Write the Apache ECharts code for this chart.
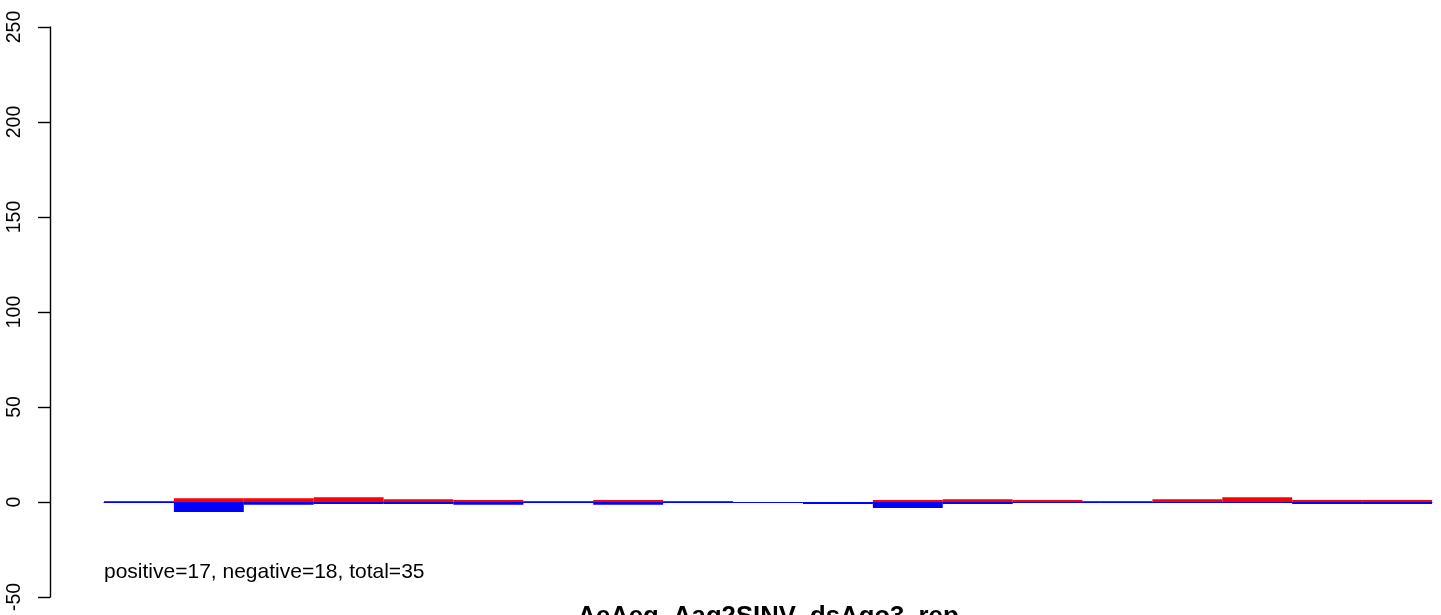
<!DOCTYPE html>
<html>
<head>
<meta charset="utf-8">
<script src="https://cdn.jsdelivr.net/npm/echarts@6/dist/echarts.min.js"></script>
<style>
html,body{margin:0;padding:0;background:#fff;}
#chart{width:1441px;height:615px;}
</style>
</head>
<body>
<div id="chart"></div>
<script>
// ---- data ----
const categories = ['1','2','3','4','5','6','7','8','9','10','11','12','13','14','15','16','17','18','19'];
const positiveValues = [0, 2, 2, 2.5, 1.5, 1, 0, 1, 0, null, null, 1, 1.5, 1, 0.5, 1.5, 2.5, 1, 1];
const negativeValues = [0, -5.3, -1.5, -1, -1, -1.5, 0, -1.5, 0, 0, -1, -3.2, -1, 0, 0, 0, 0, -1, -1];
const yTicks = { min: -50, max: 250, interval: 50 };
const subtitleText = 'positive=17, negative=18, total=35';
const titleText = 'AeAeg_Aag2SINV_dsAgo3_rep';

const FONT = '"Liberation Sans", Arial, Helvetica, sans-serif';
const chart = echarts.init(document.getElementById('chart'), null, { renderer: 'canvas' });

const option = {
  animation: false,
  backgroundColor: '#ffffff',
  grid: { left: 104, right: 9, top: 27, bottom: 18, containLabel: false },
  xAxis: {
    type: 'category',
    data: categories,
    axisLine: { show: true, onZero: true, lineStyle: { color: '#0000ff', width: 1 } },
    axisTick: { show: false },
    axisLabel: { show: false },
    splitLine: { show: false }
  },
  yAxis: {
    type: 'value',
    min: yTicks.min,
    max: yTicks.max,
    interval: yTicks.interval,
    offset: 54,
    axisLine: { show: true, lineStyle: { color: '#000', width: 1.4 } },
    axisTick: { show: true, length: 12, lineStyle: { color: '#000', width: 1.4 } },
    axisLabel: { rotate: 90, margin: 25, fontSize: 19.5, color: '#000', fontFamily: FONT },
    splitLine: { show: false }
  },
  series: [
    {
      name: 'positive',
      type: 'bar',
      data: positiveValues,
      barCategoryGap: 0,
      barGap: '-100%',
      barMinHeight: 1,
      itemStyle: { color: '#ff0000' },
      silent: true
    },
    {
      name: 'negative',
      type: 'bar',
      data: negativeValues,
      barCategoryGap: 0,
      barGap: '-100%',
      itemStyle: { color: '#0000ff' },
      silent: true
    }
  ],
  graphic: [
    {
      type: 'text',
      x: 104, y: 562,
      style: { text: subtitleText, font: '21px ' + FONT, fill: '#000', textAlign: 'left', textVerticalAlign: 'top' }
    },
    {
      type: 'text',
      x: 768, y: 603.5,
      style: { text: titleText, font: 'bold 25.7px ' + FONT, fill: '#000', textAlign: 'center', textVerticalAlign: 'top' }
    }
  ]
};
chart.setOption(option);
</script>
</body>
</html>
